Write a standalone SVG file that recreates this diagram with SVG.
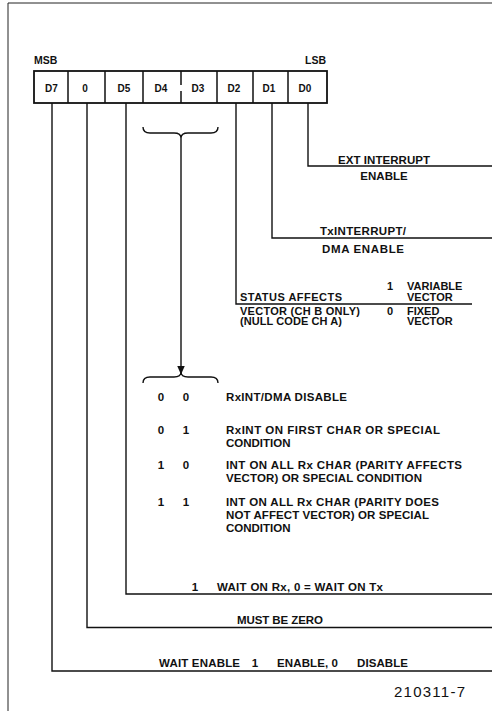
<svg xmlns="http://www.w3.org/2000/svg" width="492" height="711" viewBox="0 0 492 711">
<style>
text{font-family:"Liberation Sans",Arial,sans-serif;font-weight:bold;fill:#111;font-size:11.5px}
.c{font-size:10px;text-anchor:middle}
.s{font-size:10.5px}
.t{font-size:11px}
.m{text-anchor:middle}
.e{text-anchor:end}
.ln{fill:none;stroke:#111;stroke-width:1.4}
.fr{fill:none;stroke:#222;stroke-width:1}
.box{fill:#fff;stroke:#111;stroke-width:1.8}
.div{stroke:#111;stroke-width:1.5}
.fig{font-weight:normal;font-size:15px}
</style>
<defs>
<marker id="ah" markerUnits="userSpaceOnUse" markerWidth="9" markerHeight="10" refX="8.5" refY="4" orient="auto">
<path d="M0,0L9,4L0,8z" fill="#111"/>
</marker>
</defs>
<path class="fr" d="M8,711V3H492"/>
<g id="register">
<text class="s" x="34" y="64">MSB</text>
<text class="s e" x="326" y="64">LSB</text>
<rect class="box" x="34" y="71" width="293" height="32"/>
<path class="div" d="M68,71V103M105,71V103M143,71V103M181,71V85M181,91V103M217,71V103M253,71V103M288,71V103"/>
<g id="bit-d7"><text class="c" x="51.5" y="92">D7</text></g>
<g id="bit-d6"><text class="c" x="85" y="92">0</text></g>
<g id="bit-d5"><text class="c" x="124" y="92">D5</text></g>
<g id="bit-d4"><text class="c" x="161" y="92">D4</text></g>
<g id="bit-d3"><text class="c" x="198" y="92">D3</text></g>
<g id="bit-d2"><text class="c" x="234" y="92">D2</text></g>
<g id="bit-d1"><text class="c" x="269" y="92">D1</text></g>
<g id="bit-d0"><text class="c" x="305" y="92">D0</text></g>
</g>
<g id="connectors">
<path class="ln" d="M308,103V166H492"/>
<path class="ln" d="M272,103V238H492"/>
<path class="ln" d="M236,103V304H472"/>
<path class="ln" d="M126,103V594H492"/>
<path class="ln" d="M87,103V627.5H492"/>
<path class="ln" d="M52,103V671H492"/>
<path class="ln" d="M143,127Q143,133 150,133L174,133Q181,133 181,138Q181,133 188,133L211,133Q218,133 218,127"/>
<line class="ln" x1="181" y1="138" x2="181" y2="374" marker-end="url(#ah)"/>
<path class="ln" d="M143,383Q143,377 150,377L174,377Q181,377 181,372Q181,377 188,377L211,377Q218,377 218,383"/>
</g>
<g id="d0-label">
<text class="m" x="384" y="163.5" textLength="92">EXT INTERRUPT</text>
<text class="m" x="384" y="180">ENABLE</text>
</g>
<g id="d1-label">
<text class="m" x="363" y="235" textLength="86">TxINTERRUPT/</text>
<text class="m" x="363" y="253" textLength="82">DMA ENABLE</text>
</g>
<g id="d2-label">
<text class="t" x="387" y="290">1</text>
<text class="t" x="407" y="290">VARIABLE</text>
<text class="t" x="240" y="300.5" textLength="102">STATUS AFFECTS</text>
<text class="t" x="407" y="300.5">VECTOR</text>
<text class="t" x="240" y="314.5" textLength="120">VECTOR (CH B ONLY)</text>
<text class="t" x="387" y="314.5">0</text>
<text class="t" x="407" y="314.5">FIXED</text>
<text class="t" x="240" y="325" textLength="102">(NULL CODE CH A)</text>
<text class="t" x="407" y="325">VECTOR</text>
</g>
<g id="d4-d3-table">
<text class="m" x="161" y="401">0</text><text class="m" x="186" y="401">0</text>
<text x="226" y="401" textLength="121">RxINT/DMA DISABLE</text>
<text class="m" x="161" y="434">0</text><text class="m" x="186" y="434">1</text>
<text x="226" y="434" textLength="214">RxINT ON FIRST CHAR OR SPECIAL</text>
<text x="226" y="447">CONDITION</text>
<text class="m" x="161" y="469">1</text><text class="m" x="186" y="469">0</text>
<text x="226" y="469" textLength="236">INT ON ALL Rx CHAR (PARITY AFFECTS</text>
<text x="226" y="482" textLength="196">VECTOR) OR SPECIAL CONDITION</text>
<text class="m" x="161" y="506">1</text><text class="m" x="186" y="506">1</text>
<text x="226" y="506" textLength="213">INT ON ALL Rx CHAR (PARITY DOES</text>
<text x="226" y="519" textLength="203">NOT AFFECT VECTOR) OR SPECIAL</text>
<text x="226" y="532">CONDITION</text>
</g>
<g id="d5-label">
<text class="m" x="195" y="591">1</text>
<text x="217" y="591" textLength="166">WAIT ON Rx, 0 = WAIT ON Tx</text>
</g>
<g id="d6-label">
<text x="237" y="624" textLength="86">MUST BE ZERO</text>
</g>
<g id="d7-label">
<text x="159" y="667" textLength="81">WAIT ENABLE</text>
<text class="m" x="255" y="667">1</text>
<text x="277" y="667" textLength="61">ENABLE, 0</text>
<text x="357" y="667" textLength="51">DISABLE</text>
</g>
<text class="fig" x="394" y="697" textLength="71">210311-7</text>
</svg>
